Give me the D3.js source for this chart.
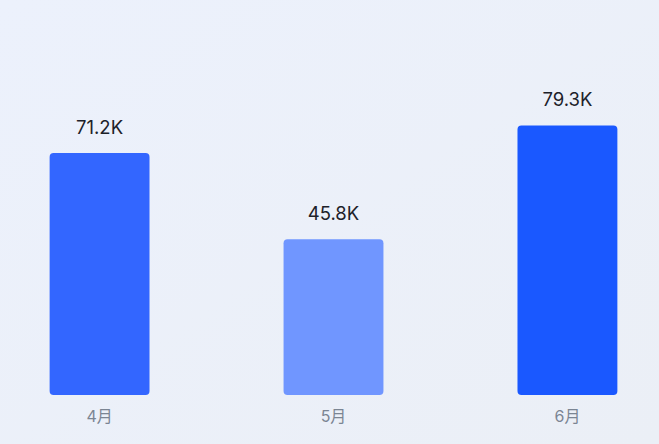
<!DOCTYPE html>
<html>
<head>
<meta charset="utf-8">
<script src="https://cdn.jsdelivr.net/npm/d3@7"></script>
<style>
  html, body { margin: 0; padding: 0; }
  body { width: 659px; height: 444px; overflow: hidden; }
</style>
</head>
<body>
<script>
// data
var months = ["4月", "5月", "6月"];
var sales = [71.2, 45.8, 79.3];
var labels = ["71.2K", "45.8K", "79.3K"];
var barColors = ["#3366ff", "#7096ff", "#1a58ff"];

var w = 659, h = 444;

var svg = d3.select("body")
            .append("svg")
            .attr("width", w)
            .attr("height", h);

// background gradient
var grad = svg.append("defs").append("linearGradient")
              .attr("id", "bg")
              .attr("x1", "0").attr("y1", "0")
              .attr("x2", "1").attr("y2", "1");
grad.append("stop").attr("offset", "0%").attr("stop-color", "#ecf1fc");
grad.append("stop").attr("offset", "100%").attr("stop-color", "#ebeff6");

svg.append("rect")
   .attr("width", w)
   .attr("height", h)
   .attr("fill", "url(#bg)");

var xScale = d3.scaleBand()
               .domain(months)
               .range([0.5, 666.5])
               .paddingInner(0.573)
               .paddingOuter(0.21);

var yScale = d3.scaleLinear()
               .domain([0, 100])
               .range([395, 55]);

var data = months.map(function(m, i) {
    return { month: m, value: sales[i], label: labels[i], color: barColors[i] };
});

svg.selectAll(".bar")
   .data(data)
   .enter()
   .append("rect")
   .attr("class", "bar")
   .attr("x", function(d) { return xScale(d.month); })
   .attr("y", function(d) { return yScale(d.value); })
   .attr("width", xScale.bandwidth())
   .attr("height", function(d) { return yScale(0) - yScale(d.value); })
   .attr("rx", 4)
   .attr("fill", function(d) { return d.color; });

// value labels
svg.selectAll(".val")
   .data(data)
   .enter()
   .append("text")
   .attr("class", "val")
   .attr("x", function(d) { return xScale(d.month) + xScale.bandwidth() / 2; })
   .attr("y", function(d) { return yScale(d.value) - 19; })
   .attr("text-anchor", "middle")
   .style("font-family", "Inter, 'Noto Sans CJK SC', sans-serif")
   .style("font-size", "18.5px")
   .attr("fill", "#1d2129")
   .text(function(d) { return d.label; });

// x axis labels
var xAxis = svg.append("g")
               .attr("transform", "translate(0," + 395 + ")")
               .call(d3.axisBottom(xScale).tickSize(0).tickPadding(16));
xAxis.select(".domain").remove();
xAxis.selectAll("text")
     .attr("dy", "0.71em")
     .style("font-family", "Inter, 'Noto Sans CJK SC', sans-serif")
     .style("font-size", "16px")
     .attr("fill", "#7b8593");
</script>
</body>
</html>
